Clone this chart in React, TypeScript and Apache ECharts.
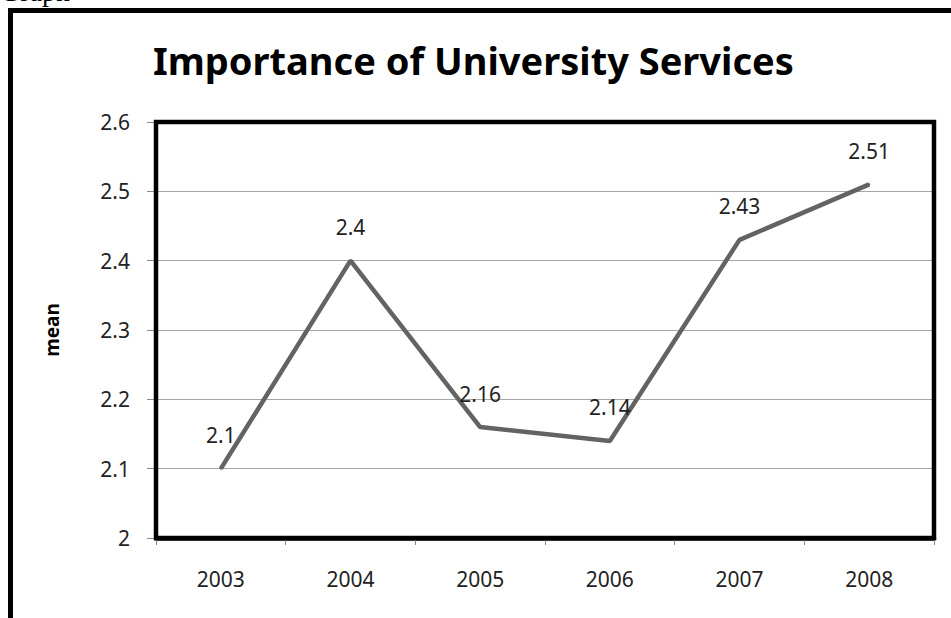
import React, { useEffect, useRef } from "react";
import * as echarts from "echarts";

const titleText = "Importance of University Services";
const yAxisName = "mean";
const years = ["2003", "2004", "2005", "2006", "2007", "2008"];
const means = [2.1, 2.4, 2.16, 2.14, 2.43, 2.51];
const yMin = 2;
const yMax = 2.6;
const yStep = 0.1;

export default function App() {
  const ref = useRef<HTMLDivElement>(null);
  useEffect(() => {
    const chart = echarts.init(ref.current!, null, { renderer: "svg" });
    chart.setOption({
      animation: false,
      backgroundColor: "#ffffff",
      title: {
        text: titleText,
        left: 148,
        top: 36,
        textStyle: {
          fontFamily: "Noto Sans",
          fontWeight: "bold",
          fontSize: 38,
          color: "#000",
        },
      },
      graphic: [
        {
          type: "rect",
          shape: { x: 10.5, y: 10.5, width: 1100, height: 800 },
          style: { fill: "none", stroke: "#000", lineWidth: 5 },
          silent: true,
        },
        {
          type: "text",
          x: 0,
          y: 5,
          style: {
            text: "Graph",
            font: "28px 'Liberation Serif', serif",
            fill: "#000",
            verticalAlign: "bottom",
          },
        },
      ],
      grid: {
        left: 156,
        top: 122,
        right: 17,
        bottom: 80,
        show: true,
        borderColor: "#000",
        borderWidth: 4.5,
        backgroundColor: "transparent",
        z: 10,
      },
      xAxis: {
        type: "category",
        data: years,
        boundaryGap: true,
        axisLine: { show: true, lineStyle: { color: "#000", width: 4.5 } },
        axisTick: { show: true, length: 7, lineStyle: { color: "#888" } },
        axisLabel: {
          margin: 30,
          fontFamily: "Noto Sans",
          fontSize: 21,
          color: "#222",
        },
        splitLine: { show: false },
      },
      yAxis: {
        type: "value",
        min: yMin,
        max: yMax,
        interval: yStep,
        name: yAxisName,
        nameLocation: "middle",
        nameGap: 95,
        nameTextStyle: {
          fontFamily: "Noto Sans",
          fontWeight: "bold",
          fontSize: 19,
          color: "#000",
        },
        axisLine: { show: false },
        axisTick: { show: true, length: 9, lineStyle: { color: "#888" } },
        axisLabel: {
          margin: 26,
          fontFamily: "Noto Sans",
          fontSize: 21,
          color: "#222",
          formatter: (v: number) => String(Math.round(v * 10) / 10),
        },
        splitLine: {
          show: true,
          showMinLine: false,
          showMaxLine: false,
          lineStyle: { color: "#a6a6a6", width: 1 },
        },
      },
      series: [
        {
          type: "line",
          data: means,
          showSymbol: true,
          symbol: "circle",
          symbolSize: 2,
          itemStyle: { color: "#636363" },
          lineStyle: { color: "#636363", width: 4.5 },
          label: {
            show: true,
            position: "top",
            distance: 22,
            fontFamily: "Noto Sans",
            fontSize: 21,
            color: "#222",
          },
        },
      ],
    });
    return () => chart.dispose();
  }, []);
  return (
    <div
      ref={ref}
      style={{ position: "fixed", left: 0, top: 0, width: 951, height: 618 }}
    />
  );
}
